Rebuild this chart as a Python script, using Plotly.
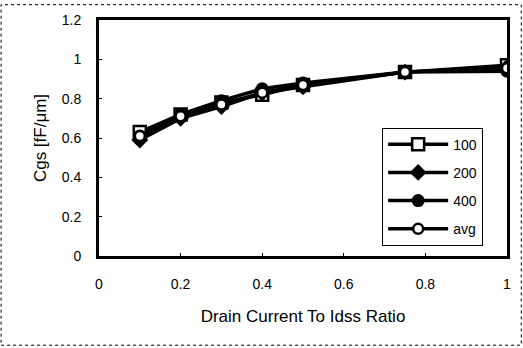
import plotly.graph_objects as go

x_vals = [0.1, 0.2, 0.3, 0.4, 0.5, 0.75, 1.0]
s100 = [0.63, 0.72, 0.78, 0.82, 0.87, 0.935, 0.97]
s200 = [0.59, 0.70, 0.76, 0.83, 0.86, 0.935, 0.96]
s400 = [0.61, 0.72, 0.79, 0.85, 0.88, 0.935, 0.94]
savg = [0.61, 0.71, 0.77, 0.83, 0.87, 0.935, 0.955]
names = ["100", "200", "400", "avg"]

fig = go.Figure()
styles = [
    dict(symbol="square", size=12, line=dict(width=2.5, color="black"), color="white"),
    dict(symbol="diamond", size=13, color="black", line=dict(width=0)),
    dict(symbol="circle", size=13, color="black", line=dict(width=0)),
    dict(symbol="circle", size=10, line=dict(width=2.5, color="black"), color="white"),
]
for name, ys, mk in zip(names, [s100, s200, s400, savg], styles):
    fig.add_trace(go.Scatter(x=x_vals, y=ys, name=name, mode="lines+markers",
                             legendgroup=name,
                             line=dict(color="black", width=3.5), marker=mk))

fig.update_layout(
    width=523, height=348,
    margin=dict(l=99, r=16, t=17, b=92),
    paper_bgcolor="white", plot_bgcolor="white",
    font=dict(family="Liberation Sans, Arial, sans-serif", size=14, color="black"),
    showlegend=True,
    legend=dict(x=0.694, y=0.544, xanchor="left", yanchor="top",
                bordercolor="black", borderwidth=1, bgcolor="white",
                font=dict(size=14), itemwidth=60, tracegroupgap=7),
    xaxis=dict(range=[0, 1], dtick=0.2, showgrid=False, zeroline=False,
               showline=True, linecolor="black", linewidth=3, mirror=True,
               ticks="inside", ticklen=3, tickcolor="black",
               ticklabelstandoff=13,
               title=dict(text="Drain Current To Idss Ratio", standoff=20),
               tickformat="~g"),
    yaxis=dict(range=[0, 1.2], dtick=0.2, showgrid=False, zeroline=False,
               showline=True, linecolor="black", linewidth=3, mirror=True,
               ticks="inside", ticklen=3, tickcolor="black",
               ticklabelstandoff=12,
               title=dict(text="Cgs [fF/μm]", standoff=11),
               tickformat="~g"),
    shapes=[dict(type="rect", xref="paper", yref="paper", x0=-0.240, x1=1.035,
                 y0=-0.378, y1=1.065, line=dict(color="black", width=1, dash="dot"))],
)
fig.write_html("out.html", config={"displayModeBar": False},
               post_script="document.body.style.margin='0';")
